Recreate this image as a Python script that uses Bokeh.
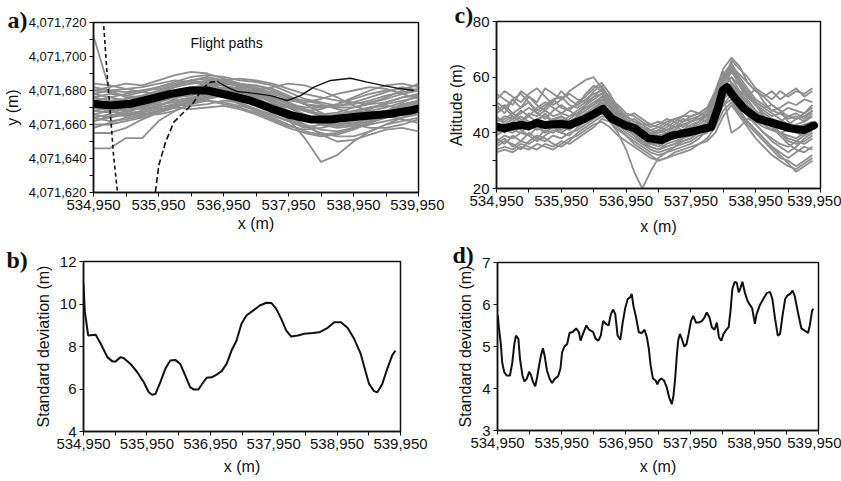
from bokeh.plotting import figure
from bokeh.layouts import row, column
from bokeh.models import Range1d, FixedTicker, NumeralTickFormatter, Label
from bokeh.embed import file_html
from bokeh.resources import INLINE

SANS = "Liberation Sans"
SERIF = "Liberation Serif"
INK = "#111111"
GRAY = "#8e8e8e"

# ---------------- common x axis ----------------
X_LIMITS = (534950, 539950)
X_TICKS = [534950, 535950, 536950, 537950, 538950, 539950]
X_MINOR = [535450, 536450, 537450, 538450, 539450]

# ---------------- panel a: flight paths (northing, m) ----------------
A_Y_LIMITS = (4071620, 4071720)
A_Y_TICKS = [4071620, 4071640, 4071660, 4071680, 4071700, 4071720]
A_Y_MINOR = [4071630, 4071650, 4071670, 4071690, 4071710]
A_NORTH_BASE = 4071000          # gray path values below are northing minus this
A_X = [534950, 535200, 535450, 535700, 535950, 536200, 536450, 536700, 536950, 537200, 537450,
       537700, 537950, 538200, 538450, 538700, 538950, 539200, 539450, 539700, 539950]
A_G01 = [680, 682, 684, 683, 686, 689, 691, 690, 687, 684, 683, 680, 676, 672, 670, 672, 675, 678, 680, 681, 683]
A_G02 = [676, 678, 677, 679, 682, 685, 688, 689, 688, 686, 685, 683, 679, 675, 673, 671, 672, 674, 677, 679, 681]
A_G03 = [668, 667, 669, 671, 673, 677, 680, 682, 684, 683, 681, 677, 673, 669, 666, 667, 670, 673, 675, 678, 680]
A_G04 = [664, 662, 663, 665, 668, 671, 674, 676, 678, 679, 677, 674, 670, 666, 662, 660, 661, 663, 666, 669, 672]
A_G05 = [672, 674, 673, 675, 678, 682, 686, 687, 685, 682, 679, 676, 672, 668, 666, 665, 664, 666, 668, 671, 674]
A_G06 = [660, 660, 662, 664, 667, 670, 673, 675, 677, 676, 672, 668, 663, 660, 657, 656, 658, 661, 664, 667, 669]
A_G07 = [678, 676, 674, 672, 673, 676, 680, 684, 686, 687, 686, 684, 681, 678, 676, 674, 673, 672, 673, 676, 678]
A_G08 = [666, 668, 670, 669, 671, 674, 676, 678, 676, 672, 668, 664, 660, 656, 654, 655, 658, 660, 662, 664, 666]
A_G09 = [682, 680, 679, 680, 682, 684, 686, 684, 681, 679, 680, 682, 684, 683, 680, 676, 671, 668, 665, 663, 661]
A_G10 = [670, 672, 675, 677, 676, 676, 677, 680, 682, 680, 677, 673, 668, 664, 662, 662, 665, 669, 673, 676, 677]
A_G11 = [662, 664, 666, 668, 670, 672, 671, 672, 674, 673, 669, 665, 662, 659, 655, 653, 653, 656, 660, 664, 668]
A_G12 = [674, 671, 668, 666, 668, 672, 675, 678, 680, 682, 683, 681, 677, 672, 667, 663, 660, 658, 658, 660, 663]
A_G13 = [684, 683, 681, 682, 684, 686, 685, 683, 679, 676, 674, 672, 670, 668, 669, 672, 676, 680, 683, 684, 682]
A_G14 = [658, 661, 664, 666, 666, 668, 672, 676, 679, 677, 674, 670, 665, 660, 654, 650, 651, 654, 657, 658, 656]
A_G15 = [646, 646, 652, 652, 662, 668, 672, 674, 673, 671, 669, 666, 662, 658, 660, 663, 667, 670, 672, 674, 676]
A_G16 = [655, 655, 658, 663, 667, 670, 674, 677, 678, 676, 673, 669, 663, 652, 638, 642, 650, 656, 660, 662, 664]
A_G17 = [712, 680, 676, 674, 675, 677, 680, 681, 681, 679, 676, 671, 667, 664, 664, 666, 668, 670, 671, 670, 670]
A_G18 = [668, 670, 672, 674, 677, 680, 682, 683, 683, 681, 679, 676, 674, 673, 675, 678, 680, 682, 681, 678, 675]
A_G19 = [674, 676, 678, 680, 681, 683, 684, 685, 683, 680, 677, 674, 671, 668, 665, 664, 665, 666, 668, 672, 674]
A_G20 = [664, 666, 665, 667, 669, 670, 669, 670, 671, 669, 666, 662, 658, 655, 653, 654, 657, 661, 665, 667, 666]
A_G21 = [670, 668, 666, 668, 671, 675, 679, 682, 681, 678, 675, 672, 668, 664, 661, 659, 660, 662, 665, 668, 671]
A_G22 = [680, 679, 677, 676, 679, 682, 684, 686, 685, 684, 682, 678, 675, 672, 671, 670, 670, 672, 676, 680, 684]
A_G23 = [676, 674, 675, 677, 680, 683, 686, 688, 686, 683, 681, 679, 676, 674, 672, 669, 667, 668, 670, 673, 677]
A_G24 = [662, 665, 668, 670, 672, 673, 675, 674, 672, 670, 667, 663, 659, 657, 658, 660, 662, 664, 667, 670, 673]
A_G25 = [678, 680, 681, 679, 678, 679, 681, 683, 684, 683, 680, 676, 672, 670, 670, 671, 673, 676, 679, 682, 680]
A_G26 = [666, 664, 667, 670, 674, 678, 681, 681, 680, 679, 678, 675, 670, 665, 660, 658, 659, 662, 664, 666, 668]
A_GRAY = [A_G01, A_G02, A_G03, A_G04, A_G05, A_G06, A_G07, A_G08, A_G09, A_G10, A_G11, A_G12, A_G13,
          A_G14, A_G15, A_G16, A_G17, A_G18, A_G19, A_G20, A_G21, A_G22, A_G23, A_G24, A_G25, A_G26]
A_MEAN = [(534950, 4071672.2), (535212, 4071671.2), (535519, 4071672.2), (535827, 4071675.0),
          (536135, 4071678.0), (536442, 4071680.0), (536699, 4071680.0), (537058, 4071677.0),
          (537365, 4071674.0), (537673, 4071669.5), (537981, 4071665.5), (538288, 4071663.0),
          (538596, 4071663.0), (538904, 4071664.3), (539212, 4071665.3), (539519, 4071666.3),
          (539826, 4071668.2), (539928, 4071669.2)]
A_DASH_LEFT = [(535100, 4071722), (535161, 4071689), (535212, 4071665), (535258, 4071642),
               (535319, 4071620), (535330, 4071615)]
A_DASH_RISE = [(535895, 4071615), (535904, 4071621), (535955, 4071636), (536058, 4071649.6),
               (536186, 4071661.4), (536339, 4071667.2), (536493, 4071673.1), (536622, 4071681.0),
               (536750, 4071684.9), (536853, 4071685.3)]
A_THIN = [(536853, 4071685.3), (537007, 4071682.0), (537161, 4071679.4), (537365, 4071678.6),
          (537673, 4071677.0), (537930, 4071674.1), (538135, 4071677.0), (538340, 4071682.0),
          (538596, 4071685.9), (538904, 4071687.2), (539160, 4071684.9), (539416, 4071682.9),
          (539622, 4071681.4), (539878, 4071680.0)]

# ---------------- panel b: standard deviation of y ----------------
B_Y_LIMITS = (4, 12)
B_Y_TICKS = [4, 6, 8, 10, 12]
B_STD = [(534950, 10.95), (534971, 9.62), (534992, 9.2), (535023, 8.52), (535143, 8.55), (535222, 8.13),
         (535326, 7.5), (535405, 7.3), (535457, 7.3), (535535, 7.5), (535587, 7.45), (535692, 7.18),
         (535796, 6.8), (535901, 6.32), (535979, 5.85), (536031, 5.73), (536084, 5.76), (536162, 6.32),
         (536240, 6.95), (536319, 7.34), (536397, 7.37), (536476, 7.18), (536554, 6.64), (536632, 6.09),
         (536685, 5.98), (536763, 5.98), (536841, 6.32), (536894, 6.53), (536972, 6.55), (537050, 6.68),
         (537129, 6.84), (537207, 7.18), (537285, 7.81), (537364, 8.28), (537442, 9.07), (537520, 9.46),
         (537625, 9.69), (537730, 9.93), (537834, 10.06), (537912, 10.05), (537991, 9.77), (538069, 9.3),
         (538148, 8.75), (538226, 8.47), (538330, 8.52), (538435, 8.6), (538565, 8.63), (538670, 8.67),
         (538801, 8.88), (538905, 9.14), (539010, 9.14), (539114, 8.88), (539219, 8.36), (539323, 7.65),
         (539401, 6.8), (539454, 6.24), (539532, 5.9), (539584, 5.85), (539663, 6.24), (539741, 6.95),
         (539819, 7.58), (539871, 7.81)]

# ---------------- panel c: altitude (m) ----------------
C_Y_LIMITS = (20, 80)
C_Y_TICKS = [20, 40, 60, 80]
C_Y_MINOR = [30, 50, 70]
C_X = [534950, 535075, 535200, 535325, 535450, 535575, 535700, 535825, 535950, 536075,
       536200, 536325, 536450, 536575, 536700, 536825, 536950, 537075, 537200, 537325,
       537450, 537575, 537700, 537825, 537950, 538075, 538200, 538325, 538450, 538575,
       538700, 538825, 538950, 539075, 539200, 539325, 539450, 539575, 539700, 539825]
C_G01 = [54, 52, 50, 55, 53, 51, 56, 54, 52, 55, 57, 59, 60, 56, 52, 50, 47, 46, 44, 42, 43, 45, 44, 46, 48, 47, 49, 55, 63, 67, 64, 58, 55, 53, 55, 52, 54, 56, 53, 55]
C_G02 = [48, 50, 47, 49, 51, 48, 50, 52, 49, 48, 51, 53, 56, 58, 54, 49, 46, 44, 42, 40, 41, 43, 42, 44, 45, 46, 48, 53, 61, 65, 60, 56, 52, 50, 48, 49, 51, 50, 52, 51]
C_G03 = [45, 44, 46, 44, 47, 46, 48, 46, 47, 49, 50, 52, 54, 55, 51, 47, 45, 43, 41, 40, 39, 40, 42, 41, 43, 44, 46, 50, 58, 62, 58, 53, 50, 47, 45, 44, 46, 47, 45, 48]
C_G04 = [40, 42, 41, 43, 42, 44, 43, 45, 44, 46, 47, 49, 51, 53, 49, 45, 44, 42, 40, 38, 37, 38, 40, 41, 42, 43, 45, 49, 57, 60, 55, 51, 48, 46, 44, 42, 41, 43, 44, 46]
C_G05 = [38, 36, 39, 37, 40, 38, 41, 40, 42, 41, 43, 45, 47, 50, 47, 44, 42, 40, 38, 36, 35, 37, 38, 40, 41, 42, 43, 47, 54, 57, 53, 49, 46, 43, 41, 40, 39, 38, 40, 42]
C_G06 = [36, 38, 35, 37, 36, 38, 37, 39, 38, 40, 41, 43, 45, 47, 46, 43, 40, 38, 36, 35, 34, 36, 37, 38, 40, 41, 42, 46, 52, 55, 50, 46, 43, 40, 38, 36, 35, 37, 36, 38]
C_G07 = [34, 35, 34, 36, 35, 34, 36, 35, 37, 36, 38, 40, 42, 45, 44, 41, 39, 37, 35, 33, 32, 33, 35, 36, 37, 39, 40, 44, 50, 54, 48, 44, 41, 38, 35, 33, 31, 33, 35, 34]
C_G08 = [44, 46, 45, 47, 49, 47, 45, 48, 50, 48, 46, 48, 50, 52, 50, 46, 43, 41, 39, 37, 38, 39, 41, 43, 42, 44, 47, 52, 60, 63, 57, 52, 48, 45, 43, 40, 38, 37, 39, 41]
C_G09 = [42, 40, 43, 41, 39, 42, 44, 42, 41, 43, 45, 47, 49, 51, 44, 40, 34, 26, 20, 26, 31, 33, 34, 35, 36, 38, 41, 45, 53, 56, 52, 47, 43, 40, 37, 35, 33, 35, 38, 40]
C_G10 = [50, 47, 52, 49, 53, 50, 48, 51, 55, 52, 50, 54, 57, 55, 50, 46, 44, 45, 43, 41, 40, 42, 44, 42, 44, 45, 44, 48, 56, 60, 57, 53, 50, 48, 46, 47, 49, 48, 47, 50]
C_G11 = [35, 37, 36, 34, 37, 39, 38, 36, 35, 37, 40, 42, 44, 46, 45, 42, 39, 36, 34, 32, 30, 31, 33, 34, 35, 36, 37, 40, 46, 50, 46, 42, 38, 35, 32, 30, 28, 27, 29, 31]
C_G12 = [46, 43, 45, 48, 46, 44, 47, 44, 46, 44, 46, 50, 53, 56, 53, 48, 45, 42, 40, 39, 41, 40, 39, 40, 41, 42, 44, 50, 59, 64, 61, 58, 55, 53, 50, 48, 44, 42, 43, 44]
C_G13 = [39, 41, 40, 42, 41, 43, 40, 42, 40, 39, 42, 44, 46, 48, 46, 43, 41, 39, 37, 36, 36, 37, 39, 39, 40, 40, 42, 45, 50, 52, 48, 44, 41, 38, 35, 32, 29, 26, 28, 30]
C_G14 = [52, 55, 53, 51, 54, 56, 53, 50, 52, 54, 52, 51, 53, 54, 50, 47, 46, 47, 45, 43, 42, 41, 43, 45, 44, 46, 48, 54, 62, 58, 55, 53, 56, 54, 52, 55, 53, 55, 54, 56]
C_G15 = [37, 39, 38, 40, 39, 37, 39, 41, 40, 42, 43, 45, 48, 50, 48, 45, 43, 40, 38, 37, 36, 35, 36, 37, 38, 40, 42, 47, 56, 62, 58, 54, 50, 46, 42, 39, 36, 34, 33, 35]
C_G16 = [41, 43, 41, 40, 43, 45, 46, 44, 43, 45, 47, 49, 50, 53, 50, 46, 43, 40, 37, 35, 34, 35, 36, 38, 39, 40, 43, 48, 58, 66, 63, 60, 56, 51, 48, 47, 45, 46, 44, 47]
C_G17 = [44, 45, 47, 45, 43, 41, 43, 45, 46, 44, 44, 46, 48, 51, 49, 46, 44, 42, 41, 40, 40, 41, 42, 43, 44, 45, 47, 51, 53, 40, 42, 45, 44, 42, 41, 40, 41, 40, 39, 41]
C_G18 = [33, 34, 33, 35, 34, 36, 35, 34, 36, 38, 39, 41, 43, 44, 42, 39, 37, 35, 33, 31, 30, 31, 32, 33, 34, 36, 38, 42, 48, 51, 47, 43, 40, 37, 34, 31, 30, 28, 30, 32]
C_G19 = [47, 49, 46, 44, 46, 49, 51, 49, 47, 46, 48, 50, 52, 54, 51, 47, 44, 43, 42, 41, 42, 44, 45, 46, 46, 47, 49, 52, 60, 64, 59, 55, 51, 49, 50, 48, 46, 45, 47, 49]
C_G20 = [43, 41, 44, 46, 44, 42, 40, 43, 45, 43, 44, 46, 48, 52, 49, 45, 42, 39, 36, 34, 33, 34, 35, 37, 38, 41, 43, 46, 54, 58, 54, 50, 47, 44, 42, 40, 37, 36, 37, 39]
C_G21 = [51, 49, 52, 54, 51, 47, 49, 52, 53, 50, 49, 51, 55, 57, 52, 48, 46, 44, 43, 43, 44, 43, 45, 44, 46, 47, 46, 50, 58, 63, 59, 54, 51, 49, 47, 45, 43, 45, 46, 48]
C_GRAY = [C_G01, C_G02, C_G03, C_G04, C_G05, C_G06, C_G07, C_G08, C_G09, C_G10, C_G11,
          C_G12, C_G13, C_G14, C_G15, C_G16, C_G17, C_G18, C_G19, C_G20, C_G21]
C_MEAN = [(534950, 42.2), (535075, 41.6), (535200, 42.4), (535325, 42.8), (535450, 42.4), (535575, 43.6),
          (535700, 42.8), (535825, 43.1), (535950, 43.2), (536075, 42.8), (536200, 44.0), (536325, 45.2),
          (536450, 46.8), (536595, 48.6), (536729, 45.1), (536933, 42.75), (537087, 41.6), (537292, 38.0),
          (537496, 37.4), (537650, 39.0), (537956, 40.4), (538263, 42.1), (538365, 48.7), (538442, 55.2),
          (538508, 56.4), (538595, 53.5), (538770, 48.7), (538979, 45.1), (539230, 43.4), (539490, 41.6),
          (539690, 41.0), (539850, 42.7)]

# ---------------- panel d: standard deviation of altitude ----------------
D_Y_LIMITS = (3, 7)
D_Y_TICKS = [3, 4, 5, 6, 7]
D_STD = [(534950, 5.5), (534955, 5.75), (534971, 5.46), (535002, 5.06), (535023, 4.62), (535055, 4.39),
         (535092, 4.31), (535144, 4.31), (535181, 4.62), (535212, 5.06), (535238, 5.26), (535275, 5.18),
         (535301, 4.70), (535338, 4.31), (535369, 4.17), (535406, 4.23), (535443, 4.40), (535474, 4.31),
         (535500, 4.17), (535537, 4.05), (535563, 4.23), (535589, 4.47), (535626, 4.78), (535658, 4.96),
         (535684, 4.78), (535720, 4.43), (535762, 4.23), (535799, 4.13), (535841, 4.23), (535893, 4.29),
         (535930, 4.47), (535956, 4.86), (535993, 5.0), (536035, 5.06), (536072, 5.32), (536124, 5.35),
         (536176, 5.43), (536218, 5.34), (536244, 5.14), (536281, 5.30), (536334, 5.50), (536376, 5.40),
         (536438, 5.35), (536480, 5.18), (536522, 5.14), (536559, 5.26), (536596, 5.61), (536638, 5.54),
         (536680, 5.50), (536716, 5.77), (536753, 5.88), (536784, 5.77), (536821, 5.26), (536863, 5.16),
         (536900, 5.57), (536942, 5.93), (536978, 6.13), (537015, 6.17), (537041, 6.25), (537067, 5.97),
         (537109, 5.69), (537151, 5.34), (537198, 5.32), (537240, 5.40), (537277, 5.22), (537308, 4.94),
         (537335, 4.55), (537371, 4.24), (537413, 4.19), (537440, 4.10), (537466, 4.19), (537502, 4.24),
         (537544, 4.19), (537586, 4.03), (537623, 3.79), (537665, 3.63), (537691, 3.83), (537717, 4.23),
         (537743, 4.78), (537764, 5.14), (537791, 5.30), (537822, 5.18), (537859, 5.0), (537895, 5.06),
         (537927, 5.30), (537964, 5.61), (538000, 5.73), (538042, 5.57), (538084, 5.57), (538137, 5.61),
         (538173, 5.69), (538210, 5.81), (538252, 5.69), (538289, 5.46), (538330, 5.40), (538367, 5.57),
         (538399, 5.22), (538435, 5.14), (538472, 5.30), (538514, 5.40), (538551, 5.46), (538582, 5.89),
         (538608, 6.37), (538645, 6.54), (538676, 6.52), (538708, 6.29), (538739, 6.41), (538765, 6.54),
         (538802, 6.29), (538844, 6.09), (538881, 5.99), (538917, 5.91), (538959, 5.54), (538986, 5.77),
         (539038, 5.99), (539090, 6.13), (539143, 6.27), (539195, 6.30), (539232, 6.13), (539274, 5.65),
         (539316, 5.26), (539352, 5.30), (539389, 5.73), (539431, 6.13), (539468, 6.22), (539510, 6.25),
         (539546, 6.33), (539578, 6.21), (539630, 5.81), (539683, 5.43), (539735, 5.38), (539788, 5.32),
         (539814, 5.50), (539850, 5.85), (539870, 5.90)]


def xs_of(pairs):
    return [p[0] for p in pairs]


def ys_of(pairs):
    return [p[1] for p in pairs]


def make_panel(width, height, borders, y_limits, y_ticks, y_minor, y_label, y_tick_size,
               x_label_gap, tag, tag_offset, tag_standoff):
    left, right, top, bottom = borders
    p = figure(width=width, height=height, output_backend="svg", toolbar_location=None,
               x_range=Range1d(*X_LIMITS), y_range=Range1d(*y_limits),
               min_border_left=left, min_border_right=right,
               min_border_top=top, min_border_bottom=bottom, frame_align=False)
    p.grid.visible = False
    p.background_fill_color = "white"
    p.border_fill_color = "white"
    p.outline_line_color = INK
    p.outline_line_width = 1.5
    p.xaxis.ticker = FixedTicker(ticks=X_TICKS, minor_ticks=X_MINOR)
    p.yaxis.ticker = FixedTicker(ticks=y_ticks, minor_ticks=y_minor)
    p.xaxis.formatter = NumeralTickFormatter(format="0,0")
    p.yaxis.formatter = NumeralTickFormatter(format="0,0")
    for ax in (p.xaxis[0], p.yaxis[0]):
        ax.axis_line_color = INK
        ax.axis_line_width = 1.5
        ax.major_tick_in = 0
        ax.major_tick_out = 4
        ax.minor_tick_in = 0
        ax.minor_tick_out = 4
        ax.major_tick_line_color = INK
        ax.minor_tick_line_color = INK
        ax.major_label_text_font = SANS
        ax.major_label_text_color = INK
        ax.axis_label_text_font = SANS
        ax.axis_label_text_font_style = "normal"
        ax.axis_label_text_font_size = "16px"
        ax.axis_label_text_color = INK
    p.xaxis.major_label_text_font_size = "15px"
    p.yaxis.major_label_text_font_size = y_tick_size
    p.xaxis.major_label_standoff = 3
    p.xaxis.axis_label_standoff = x_label_gap
    p.yaxis.major_label_standoff = 3
    p.yaxis.axis_label_standoff = 5
    p.xaxis.axis_label = "x (m)"
    p.yaxis.axis_label = y_label
    # panel tag ("a)", "b)", ...) drawn as the plot title, pulled left of the axis
    p.title.text = tag
    p.title.align = "left"
    p.title.offset = tag_offset
    p.title.standoff = tag_standoff
    p.title.vertical_align = "bottom"
    p.title.text_font = SERIF
    p.title.text_font_style = "bold"
    p.title.text_font_size = "24px"
    p.title.text_color = INK
    return p


# ---- a ----
pa = make_panel(444, 240, (93, 26, 22, 48), A_Y_LIMITS, A_Y_TICKS, A_Y_MINOR, "y (m)", "13px",
                2, "a)", -86, -20)
pa.multi_line(xs=[A_X for _ in A_GRAY], ys=[[A_NORTH_BASE + v for v in g] for g in A_GRAY],
              line_color=GRAY, line_width=1.8)
pa.line(xs_of(A_DASH_LEFT), ys_of(A_DASH_LEFT), line_color=INK, line_width=1.6, line_dash="4 3")
pa.line(xs_of(A_DASH_RISE), ys_of(A_DASH_RISE), line_color=INK, line_width=1.6, line_dash="6 3")
pa.line(xs_of(A_THIN), ys_of(A_THIN), line_color=INK, line_width=1.4)
pa.line(xs_of(A_MEAN), ys_of(A_MEAN), line_color="black", line_width=8, line_cap="round", line_join="round")
pa.add_layout(Label(x=97, y=158, x_units="screen", y_units="screen", text="Flight paths",
                    text_font=SANS, text_font_size="14px", text_color=INK, text_baseline="top"))

# ---- b ----
pb = make_panel(444, 241, (83, 44, 21, 50), B_Y_LIMITS, B_Y_TICKS, [], "Standard deviation (m)", "15px",
                6, "b)", -77, -22)
pb.line(xs_of(B_STD), ys_of(B_STD), line_color=INK, line_width=2)

# ---- c ----
pc = make_panel(397, 240, (50, 21, 21, 52), C_Y_LIMITS, C_Y_TICKS, C_Y_MINOR, "Altitude (m)", "15px",
                9, "c)", -42, -12)
pc.multi_line(xs=[C_X for _ in C_GRAY], ys=C_GRAY, line_color=GRAY, line_width=1.8)
pc.line(xs_of(C_MEAN), ys_of(C_MEAN), line_color="black", line_width=8, line_cap="round", line_join="round")

# ---- d ----
pd_ = make_panel(397, 241, (53, 23, 22, 51), D_Y_LIMITS, D_Y_TICKS, [], "Standard deviation (m)", "15px",
                 7, "d)", -45, -10)
pd_.line(xs_of(D_STD), ys_of(D_STD), line_color=INK, line_width=2)

page = row(column(pa, pb), column(pc, pd_))
open("out.html", "w").write(file_html(page, INLINE))
